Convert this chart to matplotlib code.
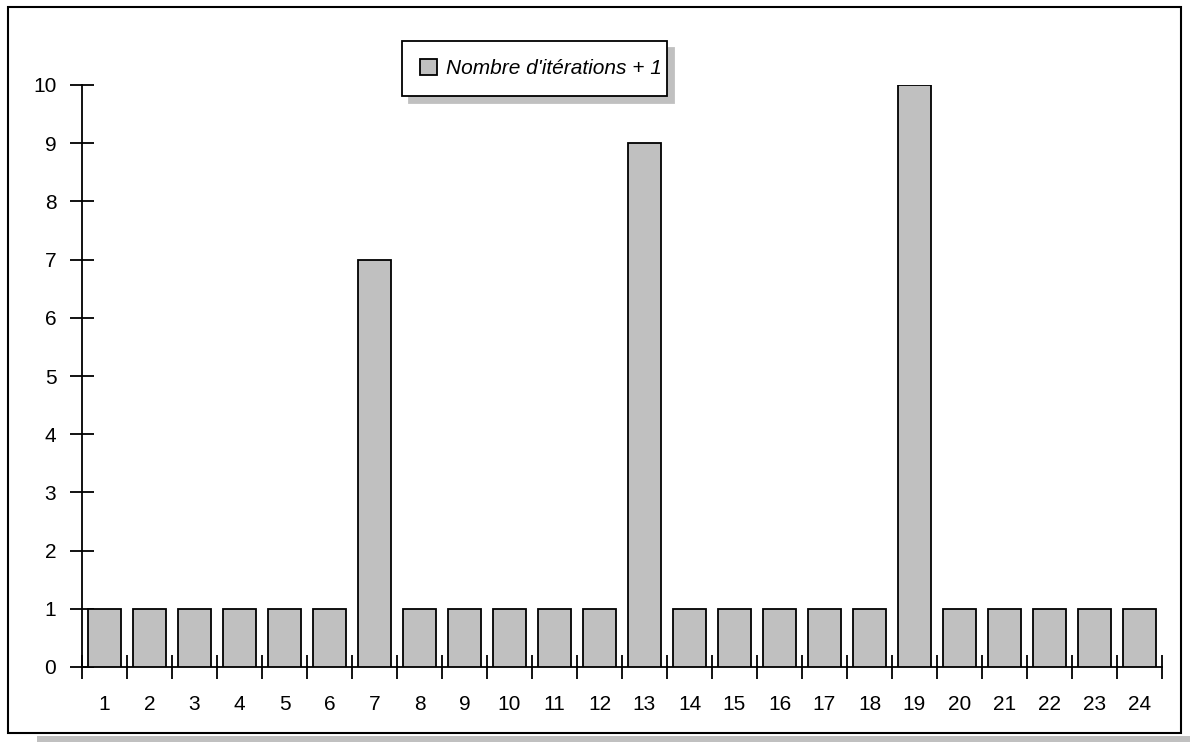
import matplotlib
matplotlib.use("Agg")
import matplotlib.pyplot as plt
from matplotlib.patches import Rectangle

plt.rcParams['font.family'] = ['Liberation Sans', 'DejaVu Sans']

categories = [str(i) for i in range(1, 25)]
values = [1, 1, 1, 1, 1, 1, 7, 1, 1, 1, 1, 1, 9, 1, 1, 1, 1, 1, 10, 1, 1, 1, 1, 1]
series_label = "Nombre d'itérations + 1"

W, H = 1190, 742
fig = plt.figure(figsize=(W / 100, H / 100), dpi=100)

def fx(px):
    return px / W

def fy(py):
    return 1 - py / H

# outer frame and shadow
fig.patches.append(Rectangle((fx(37), fy(742)), fx(1190) - fx(37), 6 / H,
                             transform=fig.transFigure, facecolor='#c0c0c0',
                             edgecolor='none', zorder=0))
fig.patches.append(Rectangle((fx(8), fy(733)), fx(1181) - fx(8), (733 - 7) / H,
                             transform=fig.transFigure, facecolor='white',
                             edgecolor='black', linewidth=1.5, zorder=1))

ax = fig.add_axes([fx(82), fy(667), fx(1162) - fx(82), (667 - 85) / H])
ax.set_zorder(2)
ax.patch.set_visible(False)

x = list(range(1, len(categories) + 1))
bars = ax.bar(x, values, width=0.73, color='#c0c0c0', edgecolor='black',
              linewidth=1.3, label=series_label, zorder=3)

ax.set_xlim(0.5, len(categories) + 0.5)
ax.set_ylim(0, 10)

for s in ['top', 'right']:
    ax.spines[s].set_visible(False)
for s in ['left', 'bottom']:
    ax.spines[s].set_linewidth(1.3)

ax.set_yticks(range(0, 11))
ax.set_yticklabels([str(i) for i in range(0, 11)])
ax.tick_params(axis='y', direction='inout', length=17, width=1.3,
               labelsize=15, pad=10)

ax.set_xticks(x)
ax.set_xticklabels(categories)
ax.set_xticks([i + 0.5 for i in range(0, len(categories) + 1)], minor=True)
ax.tick_params(axis='x', which='major', length=0, labelsize=15, pad=20)
ax.tick_params(axis='x', which='minor', direction='inout', length=17, width=1.3)

leg = ax.legend(loc='upper left',
                bbox_to_anchor=(fx(402), fy(97), fx(667) - fx(402), 56 / H),
                mode='expand',
                bbox_transform=fig.transFigure, frameon=True, fancybox=False,
                shadow={'ox': 5, 'oy': -5, 'color': '#c0c0c0', 'alpha': 1.0},
                prop={'style': 'italic', 'size': 15},
                handlelength=0.85, handleheight=0.85, handletextpad=0.4,
                borderpad=0.85, borderaxespad=0)
leg.get_frame().set_edgecolor('black')
leg.get_frame().set_linewidth(1.3)

fig.savefig('out.png', dpi=100)
